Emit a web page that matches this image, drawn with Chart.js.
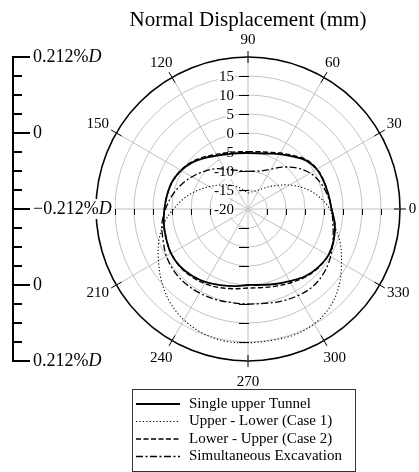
<!DOCTYPE html>
<html lang="en">
<head>
<meta charset="utf-8">
<title>Normal Displacement (mm)</title>
<script src="https://cdn.jsdelivr.net/npm/chart.js@4.4.1/dist/chart.umd.min.js"></script>
<style>
  html, body { margin: 0; padding: 0; background: #ffffff; }
  canvas { display: block; }
</style>
</head>
<body>
<canvas id="chart" width="419" height="472"></canvas>
<script>
// Angle of each reading, degrees counter-clockwise from the right-hand horizontal
const angles = [0, 10, 20, 30, 40, 50, 60, 70, 80, 90, 100, 110, 120, 130, 140, 150, 160, 170,
                180, 190, 200, 210, 220, 230, 240, 250, 260, 270, 280, 290, 300, 310, 320, 330, 340, 350];

// Normal displacement of the lining at each angle (mm)
const singleUpper  = [2.0, 1.5, 1.2, 0.9, -0.1, -1.9, -3.3, -4.5, -5.1, -5.3, -5.1, -4.6, -3.8, -2.4, -0.9, 0.3, 1.2, 1.6,
                      2.0, 2.5, 2.9, 3.4, 3.4, 2.9, 2.2, 1.3, 0.6, 0.0, 0.3, 1.0, 1.9, 3.2, 4.0, 4.4, 4.0, 3.2];
const upperLower   = [1.5, -1.1, -4.1, -7.4, -10.4, -12.6, -14.2, -15.0, -15.5, -15.8, -15.2, -14.2, -13.0, -11.7, -10.2, -8.2, -5.8, -3.1,
                      -0.4, 2.5, 5.0, 7.2, 9.7, 12.0, 13.7, 14.8, 15.3, 15.2, 15.1, 15.3, 14.9, 13.6, 11.3, 8.4, 5.8, 3.0];
const lowerUpper   = [2.0, 1.5, 1.3, 1.0, 0.1, -1.6, -3.0, -4.1, -4.7, -4.9, -4.7, -4.2, -3.4, -2.1, -0.7, 0.4, 1.2, 1.6,
                      2.0, 2.5, 2.9, 3.4, 3.5, 3.2, 2.7, 2.0, 1.3, 0.8, 1.0, 1.6, 2.4, 3.4, 4.1, 4.4, 4.0, 3.2];
const simultaneous = [2.0, 1.2, 0.3, -1.1, -3.2, -5.6, -7.9, -9.3, -9.9, -10.1, -9.8, -9.1, -7.9, -6.2, -4.7, -3.0, -1.3, 0.3,
                      1.7, 3.0, 3.8, 4.8, 5.4, 5.6, 5.5, 5.3, 5.0, 5.0, 5.2, 5.8, 6.3, 6.6, 6.1, 5.1, 3.8, 2.7];

const seriesNames = ['Single upper Tunnel', 'Upper - Lower (Case 1)', 'Lower - Upper (Case 2)', 'Simultaneous Excavation'];

// Radial axis (mm) and the angles that carry a label
const radialMin = -20;
const radialMax = 20;
const radialStep = 5;
const radialLabels = ['-20', '-15', '-10', '-5', '0', '5', '10', '15'];
const angleLabels = ['0', '30', '60', '90', '120', '150', '210', '240', '270', '300', '330'];
const angleMarks = [0, 30, 60, 90, 120, 150, 180, 210, 240, 270, 300, 330];

// Companion bar: the same rings read as a share of the diameter D
const barRings = [20, 15, 10, 5, 0, -5, -10, -15, -20];
const barMajor = [20, 0, -20];
const barText = ['0.212%', '0', '\u22120.212%'];
const barUnit = ['D', '', 'D'];

const serif = '"Liberation Serif", "Times New Roman", serif';

// The radial scale runs clockwise from the top; reorder the readings to suit it
const step = 360 / angles.length;
const order = angles.map((_, i) => ((90 - i * step) % 360 + 360) % 360);
const arrange = values => order.map(a => values[angles.indexOf(a)]);

const lineStyles = [
  { borderWidth: 1.8, borderDash: [] },
  { borderWidth: 1.1, borderDash: [1.2, 2.2] },
  { borderWidth: 1.4, borderDash: [5, 2.5] },
  { borderWidth: 1.3, borderDash: [7, 2.5, 2, 2.5] }
];
const series = [singleUpper, upperLower, lowerUpper, simultaneous];

const datasets = series.map((values, k) => ({
  label: seriesNames[k],
  data: arrange(values),
  borderColor: '#000000',
  backgroundColor: 'rgba(0,0,0,0)',
  borderWidth: lineStyles[k].borderWidth,
  borderDash: lineStyles[k].borderDash,
  fill: false,
  tension: 0.35,
  pointRadius: 0,
  pointHoverRadius: 0,
  pointHitRadius: 0
}));

// Axis furniture, tick labels, companion bar and the boxed legend
const polarDecor = {
  id: 'polarDecor',
  beforeDatasetsDraw(chart) {
    const s = chart.scales.r;
    const ctx = chart.ctx;
    const cx = s.xCenter, cy = s.yCenter, R = s.drawingArea;
    ctx.save();
    ctx.strokeStyle = '#000';
    ctx.lineWidth = 1;
    ctx.beginPath();
    // angular ticks straddling the rim
    angleMarks.forEach(a => {
      const i = order.indexOf(a);
      const p0 = s.getPointPosition(i, R - 6);
      const p1 = s.getPointPosition(i, R + 6);
      ctx.moveTo(p0.x, p0.y);
      ctx.lineTo(p1.x, p1.y);
    });
    // ring ticks along the axes
    radialLabels.slice(1).forEach(t => {
      const d = s.getDistanceFromCenterForValue(Number(t));
      [cx - d, cx + d].forEach(x => { ctx.moveTo(Math.round(x) + 0.5, cy); ctx.lineTo(Math.round(x) + 0.5, cy + 6); });
      [cy - d, cy + d].forEach(y => { ctx.moveTo(cx - 9, Math.round(y) + 0.5); ctx.lineTo(cx + 1, Math.round(y) + 0.5); });
    });
    ctx.stroke();
    // radial tick labels on a white ground, left of the vertical axis
    ctx.font = '15px ' + serif;
    ctx.textAlign = 'right';
    ctx.textBaseline = 'middle';
    radialLabels.forEach(t => {
      const y = cy - s.getDistanceFromCenterForValue(Number(t)) + 1;
      const w = ctx.measureText(t).width;
      ctx.fillStyle = '#fff';
      ctx.fillRect(cx - 14 - w - 1, y - 7, w + 2, 14);
      ctx.fillStyle = '#000';
      ctx.fillText(t, cx - 14, y);
    });
    ctx.restore();
  },
  afterDraw(chart) {
    const s = chart.scales.r;
    const ctx = chart.ctx;
    const cx = s.xCenter, cy = s.yCenter, R = s.drawingArea;
    ctx.save();

    // angle labels around the rim, pushed clear of it by their own size
    ctx.font = '15px ' + serif;
    ctx.fillStyle = '#000';
    ctx.textAlign = 'center';
    ctx.textBaseline = 'middle';
    angleLabels.forEach(t => {
      const i = order.indexOf(Number(t));
      const p = s.getPointPosition(i, R + 8);
      const ux = (p.x - cx) / (R + 8);
      const uy = (p.y - cy) / (R + 8);
      const w = ctx.measureText(t).width;
      const dy = uy > 0 ? uy * uy * 12 + 1 : uy * 9;
      ctx.fillText(t, p.x + ux * w * 0.6, p.y + dy);
    });

    // companion bar on the left
    const barX = 13;
    ctx.strokeStyle = '#000';
    ctx.lineWidth = 2;
    ctx.beginPath();
    ctx.moveTo(barX, cy - R - 1);
    ctx.lineTo(barX, cy + R + 1);
    barRings.forEach(v => {
      const d = s.getDistanceFromCenterForValue(v);
      const len = barMajor.includes(v) ? 17 : 9;
      const ys = d === 0 ? [cy] : [cy - d, cy + d];
      ys.forEach(y => { ctx.moveTo(barX - 1, Math.round(y)); ctx.lineTo(barX + len, Math.round(y)); });
    });
    ctx.stroke();

    ctx.textAlign = 'left';
    ctx.textBaseline = 'middle';
    barMajor.forEach((v, k) => {
      const d = s.getDistanceFromCenterForValue(v);
      const ys = d === 0 ? [cy] : [cy - d, cy + d];
      ys.forEach(y => {
        ctx.font = '18px ' + serif;
        const w1 = ctx.measureText(barText[k]).width;
        ctx.font = 'italic 18px ' + serif;
        const w2 = ctx.measureText(barUnit[k]).width;
        if (d === 0) {
          ctx.fillStyle = '#fff';
          ctx.fillRect(31, y - 10, w1 + w2 + 5, 20);
        }
        ctx.fillStyle = '#000';
        ctx.font = '18px ' + serif;
        ctx.fillText(barText[k], 33, y);
        ctx.font = 'italic 18px ' + serif;
        ctx.fillText(barUnit[k], 33 + w1, y);
      });
    });

    // boxed legend under the plot
    const box = { x: 132.5, y: 389.5, w: 223, h: 82 };
    ctx.strokeStyle = '#333';
    ctx.lineWidth = 1;
    ctx.strokeRect(box.x, box.y, box.w, box.h);
    ctx.font = '15px ' + serif;
    ctx.textAlign = 'left';
    ctx.textBaseline = 'middle';
    chart.data.datasets.forEach((ds, k) => {
      const y = 404 + k * 17.5;
      ctx.strokeStyle = '#000';
      ctx.lineWidth = ds.borderWidth;
      ctx.setLineDash(ds.borderDash);
      ctx.beginPath();
      ctx.moveTo(136, y);
      ctx.lineTo(180, y);
      ctx.stroke();
      ctx.setLineDash([]);
      ctx.fillStyle = '#000';
      ctx.fillText(ds.label, 189, y);
    });
    ctx.restore();
  }
};

new Chart(document.getElementById('chart'), {
  type: 'radar',
  data: { labels: order.map(String), datasets },
  options: {
    responsive: false,
    animation: false,
    devicePixelRatio: 1,
    events: [],
    layout: { padding: { left: 96, right: 19, top: 0, bottom: 110 } },
    plugins: {
      legend: { display: false },
      tooltip: { enabled: false },
      title: {
        display: true,
        text: 'Normal Displacement (mm)',
        color: '#000',
        font: { family: serif, size: 21, weight: 'normal' },
        padding: { top: 8, bottom: 24 }
      }
    },
    scales: {
      r: {
        min: radialMin,
        max: radialMax,
        startAngle: 0,
        ticks: { display: false, stepSize: radialStep },
        pointLabels: { display: false },
        grid: {
          circular: true,
          color: c => (c.tick && c.tick.value === radialMax) ? '#000' : '#c4c4c4',
          lineWidth: c => (c.tick && c.tick.value === radialMax) ? 1.6 : 1
        },
        angleLines: {
          color: '#c0c0c0',
          lineWidth: c => (order[c.index] % 30 === 0 ? 1 : 0)
        }
      }
    }
  },
  plugins: [polarDecor]
});
</script>
</body>
</html>
